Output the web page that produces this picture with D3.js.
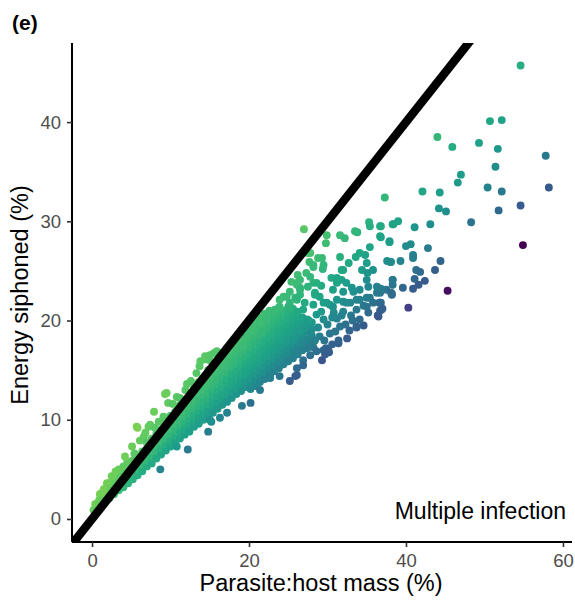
<!DOCTYPE html>
<html><head><meta charset="utf-8">
<script src="https://cdn.jsdelivr.net/npm/d3@7"></script>
<style>body{margin:0;background:#fff}svg{display:block}</style>
</head><body><svg id="c" width="575" height="601"></svg>
<script>
const xTicks = [0, 20, 40, 60];
const yTicks = [0, 10, 20, 30, 40];
const panelLabel = "(e)";
const xTitle = "Parasite:host mass (%)";
const yTitle = "Energy siphoned (%)";
const facetNote = "Multiple infection";

// dense core: [mass, energy, energy, ...] per column
const denseColumns = [
[0.4, 0.9, 1.5],
[1.0, 1.3, 1.9, 2.5],
[1.6, 1.8, 2.5, 3.0],
[2.2, 2.1, 2.8, 3.4],
[2.8, 2.5, 3.2, 3.9],
[3.4, 2.9, 3.6, 4.2],
[4.0, 3.2, 3.9, 4.6],
[4.6, 3.6, 4.3, 4.9, 5.5],
[5.2, 4.0, 4.7, 5.2, 5.9],
[5.8, 4.4, 5.0, 5.7, 6.3],
[6.4, 4.8, 5.5, 6.1, 6.8],
[7.0, 5.3, 5.9, 6.6, 7.1, 7.7],
[7.6, 5.6, 6.3, 6.9, 7.6, 8.1],
[8.2, 6.1, 6.8, 7.4, 8.0, 8.6],
[8.8, 6.5, 7.1, 7.8, 8.3, 9.0],
[9.4, 6.9, 7.5, 8.1, 8.8, 9.3, 9.9],
[10.0, 7.3, 7.9, 8.6, 9.1, 9.8, 10.4],
[10.6, 7.7, 8.4, 8.9, 9.6, 10.2, 10.8],
[11.2, 8.1, 8.7, 9.4, 9.9, 10.5, 11.0, 11.5],
[11.8, 8.5, 9.0, 9.7, 10.4, 10.9, 11.5, 12.0],
[12.4, 8.8, 9.5, 10.1, 10.6, 11.3, 11.9, 12.5],
[13.0, 9.3, 9.9, 10.4, 11.1, 11.7, 12.2, 12.8, 13.2],
[13.6, 9.6, 10.2, 10.9, 11.4, 12.0, 12.7, 13.2, 13.8],
[14.2, 10.0, 10.7, 11.2, 11.8, 12.5, 13.0, 13.7, 14.2],
[14.8, 10.4, 10.9, 11.6, 12.2, 12.7, 13.4, 13.9, 14.5, 15.0],
[15.4, 10.7, 11.4, 11.9, 12.6, 13.1, 13.7, 14.4, 14.9, 15.5],
[16.0, 11.1, 11.7, 12.4, 12.9, 13.6, 14.1, 14.8, 15.3, 15.9],
[16.6, 11.5, 12.1, 12.6, 13.3, 13.8, 14.5, 15.0, 15.6, 16.2, 16.7],
[17.2, 11.8, 12.5, 13.0, 13.7, 14.2, 14.8, 15.5, 16.0, 16.6, 17.2],
[17.8, 12.2, 12.8, 13.5, 14.0, 14.6, 15.3, 15.8, 16.4, 17.1, 17.6],
[18.4, 12.6, 13.1, 13.8, 14.4, 14.9, 15.6, 16.1, 16.8, 17.3, 17.9, 18.3],
[19.0, 12.9, 13.6, 14.1, 14.7, 15.4, 15.9, 16.5, 17.2, 17.7, 18.3, 18.8],
[19.6, 13.3, 13.9, 14.6, 15.1, 15.7, 16.4, 16.9, 17.5, 18.2, 18.7, 19.2],
[20.2, 13.1, 13.7, 14.2, 14.9, 15.5, 16.0, 16.7, 17.3, 17.8, 18.5, 19.0, 19.6],
[20.8, 13.4, 14.0, 14.7, 15.2, 15.8, 16.5, 17.0, 17.6, 18.3, 18.8, 19.4, 20.0],
[21.4, 13.8, 14.4, 15.0, 15.7, 16.2, 16.8, 17.5, 18.0, 18.6, 19.3, 19.8, 20.3],
[22.0, 14.1, 14.8, 15.4, 16.0, 16.7, 17.2, 17.8, 18.5, 19.0, 19.6, 20.2, 20.7],
[22.6, 14.5, 15.2, 15.7, 16.4, 17.0, 17.5, 18.2, 18.8, 19.3, 20.0, 20.5, 21.0],
[23.2, 14.9, 15.5, 16.2, 16.7, 17.3, 18.0, 18.5, 19.1, 19.8, 20.3, 20.9],
[23.8, 15.2, 15.9, 16.5, 17.1, 17.8, 18.3, 18.9, 19.6, 20.1, 20.7, 21.3],
[24.4, 15.6, 16.2, 16.9, 17.4, 18.0, 18.7, 19.2, 19.8, 20.5, 21.0],
[25.0, 15.9, 16.6, 17.1, 17.8, 18.4, 18.9, 19.6, 20.2, 20.7, 21.4],
[25.6, 16.2, 16.9, 17.6, 18.2, 18.7, 19.4, 20.0, 20.5, 21.2],
[26.2, 16.6, 17.3, 17.9, 18.6, 19.1, 19.7, 20.4, 20.9],
[26.8, 17.0, 17.8, 18.4, 19.0, 19.6, 20.3],
[27.4, 17.5, 18.1, 18.9, 19.5, 20.1],
[28.0, 17.8, 18.5, 19.1, 19.8]
];

// scattered middle points [mass, energy]
const middlePoints = [
[26.5,22.6],[28.4,22.8],[30.3,21.6],[32.0,20.9],[32.9,21.8],[34.1,22.1],[35.4,22.3],[36.3,22.8],
[26.9,21.1],[28.6,20.6],[29.5,20.1],[31.2,20.2],[31.6,19.4],[30.3,18.7],[29.0,18.4],[27.8,18.7],
[26.5,19.0],[25.6,18.0],[26.9,17.7],[28.2,17.3],[29.5,17.0],[26.1,16.7],[27.8,16.5],[26.9,16.0],
[28.8,19.3],[30.0,19.6],[30.8,20.8],[31.0,18.9],[32.3,19.6],[33.0,20.5],[32.8,19.0],[29.6,18.0],
[28.4,18.0],[27.4,17.2],[28.6,16.9],[30.6,17.6],[33.2,20.0],[35.2,20.8],[34.6,21.5],[27.6,20.0],
[27.2,19.3],[29.2,20.9],[30.6,20.3],[31.8,20.5],
[35.3,29.9],[33.8,28.9],[31.6,28.6],[32.2,28.3],[29.8,27.8],[35.4,27.4],[29.3,26.3],[27.5,26.8],
[27.7,25.9],[28.2,25.6],[29.4,25.2],[31.8,25.1],[34.4,25.1],[35.1,24.8],[37.6,26.0],[33.6,26.4],
[26.2,24.6],[27.3,24.8],[25.4,23.9],[26.5,23.3],[27.5,23.4],[28.2,23.8],[29.2,23.5],[28.4,22.6],
[30.5,24.3],[31.2,23.8],[31.8,24.1],[33.1,23.3],[34.1,23.1],[35.2,23.4],[36.3,23.4],[36.7,22.8],
[37.5,23.1],[24.4,22.4],[25.9,22.3],[27.1,21.8],[28.2,21.6],[29.5,21.8],[30.7,21.4],[32.0,21.9],
[33.7,22.1],[35.0,22.3],[36.7,21.8],
[33.5,29.0],[35.4,29.5],[36.7,29.5],[38.4,29.7],[36.7,28.5],[37.9,28.0],[34.8,26.6],[38.1,25.9],[38.3,24.1],
[27.8,26.8],[28.8,26.3],[29.5,25.6],[28.2,25.4],[26.5,24.1],[26.1,23.6],[27.8,24.4],[28.6,23.8],
[26.5,23.1],[24.8,22.4],[23.9,21.4],[25.2,21.8],[29.9,28.6],[31.6,26.4],[32.7,25.8],[32.0,25.1],
[34.1,26.8],[35.0,25.8],[35.8,25.1],[35.0,24.1],[31.2,24.3],[32.4,23.8],[33.3,22.9],[32.0,22.9],
[30.7,23.1],[35.0,21.4],[35.8,21.8],[33.7,21.1],[32.4,21.8],[31.2,22.1],[29.9,21.8],[29.0,22.4],
[23.9,22.1],[25.2,22.9],[26.1,23.8],[26.1,22.1],[25.2,21.4],[23.3,21.1],[22.2,20.1],[21.4,19.7],
[20.5,19.0],[21.8,18.9],[19.7,18.4],[19.3,17.4]
];

// lower fringe points
const lowerPoints = [
[8.7,5.0],[10.8,7.3],[12.2,7.0],[14.8,8.8],[15.2,9.8],[15.0,10.0],[16.3,10.2],[17.2,10.7],
[19.1,11.4],[20.2,11.7],[21.4,13.0],[22.7,14.2],[22.7,14.4],[23.9,14.4],[25.2,13.9],[26.1,14.5],
[25.9,14.4],[26.1,15.2],[26.9,15.5],[29.3,16.0],[29.8,17.2],[30.2,16.8],[29.7,16.6],[30.1,17.0],
[31.4,17.7],[31.4,18.0],[32.5,18.2],[33.7,19.3],[34.6,19.5],[34.1,20.1],[33.7,19.4],
[36.4,20.5],[36.5,20.4],[36.7,21.0],[36.9,21.1],[36.6,21.8],[38.2,22.7],[38.2,22.6],[38.3,23.6]
];

// points above the 1:1 line
const upperPoints = [
[0.2,0.9],[0.5,1.5],[0.9,1.9],[1.2,2.6],[1.5,3.0],[1.9,3.6],[2.1,3.6],[2.5,4.3],[2.7,4.3],
[3.0,4.8],[3.4,5.0],[4.0,5.3],[4.5,5.8],[4.2,6.3],[5.1,7.3],[5.4,6.6],[5.7,9.3],[5.8,9.2],
[6.1,7.9],[6.6,8.3],[6.8,8.7],[7.0,7.7],[7.2,9.3],[7.4,9.5],[7.9,10.8],[8.0,9.2],[8.5,9.8],
[9.1,10.3],[9.3,12.6],[9.5,12.7],[9.7,11.7],[10.3,11.6],[10.8,12.3],[11.2,12.2],[11.9,13.0],
[12.1,13.6],[12.6,13.9],[13.3,14.7],[13.7,15.4],[13.8,15.9],[14.4,16.1],[14.4,16.4],[15.0,16.5],
[15.0,16.0],[15.5,16.7],[15.9,16.9],[27.0,29.2]
];

// sparse points at large mass
const sparsePoints = [
[54.6,45.7],[50.7,40.1],[52.2,40.2],[44.0,38.5],[45.9,37.5],[49.3,37.9],[51.7,37.3],[57.8,36.6],
[51.4,35.5],[47.0,34.7],[46.6,33.9],[50.4,33.4],[52.2,33.0],[58.2,33.4],[37.3,32.4],[42.1,33.0],
[44.3,32.9],[44.2,31.3],[45.1,31.0],[51.8,31.1],[54.6,31.6],[48.3,29.9],[54.9,27.6],[45.3,23.0],
[40.3,21.3],[43.1,29.7],[41.1,29.4],[38.3,29.7],[39.0,30.0],[36.8,29.5],[36.8,28.4],[37.9,27.9],
[40.0,27.5],[40.6,27.7],[42.8,27.3],[40.9,26.6],[40.9,26.3],[38.0,25.9],[39.3,26.0],[44.4,26.0],
[43.7,25.1],[41.3,25.1],[41.8,24.9],[38.3,24.1],[41.1,24.2],[42.4,24.0],[39.6,23.3],[41.6,23.6],
[40.9,23.2],[38.1,22.8],[36.8,23.2],[36.8,21.8],[37.0,21.2]
];

const points = [];
denseColumns.forEach(c => c.slice(1).forEach(v => points.push([c[0], v])));
middlePoints.forEach(p => points.push(p));
lowerPoints.forEach(p => points.push(p));
upperPoints.forEach(p => points.push(p));
sparsePoints.forEach(p => points.push(p));

const colourStops = [0.528, 0.54, 0.56, 0.595, 0.65, 0.75, 0.88, 1.0, 1.4];
const colourPos = [0, 0.04, 0.18, 0.28, 0.4, 0.55, 0.66, 0.72, 0.8];

const svg = d3.select("#c");
const x = d3.scaleLinear().domain([-2.55, 61.15]).range([72, 572]);
const y = d3.scaleLinear().domain([-2.32, 47.97]).range([542, 43]);
const tScale = d3.scaleLinear().domain(colourStops).range(colourPos).clamp(true);
const colour = d => d3.interpolateViridis(tScale((d[1] + 3) / (d[0] + 3)));

svg.append("defs").append("clipPath").attr("id", "clip")
  .append("rect").attr("x", 72).attr("y", 43).attr("width", 500).attr("height", 499);

const plot = svg.append("g").attr("clip-path", "url(#clip)");
plot.selectAll("circle").data(points).join("circle")
  .attr("cx", d => x(d[0])).attr("cy", d => y(d[1])).attr("r", 3.95)
  .attr("fill", colour);

const xd = x.domain();
plot.append("line")
  .attr("x1", x(xd[0])).attr("y1", y(xd[0]))
  .attr("x2", x(xd[1])).attr("y2", y(xd[1]))
  .attr("stroke", "#000").attr("stroke-width", 8.5);

const font = "'Liberation Sans', Arial, Helvetica, sans-serif";
const xAxis = svg.append("g").attr("transform", "translate(0,542)")
  .call(d3.axisBottom(x).tickValues(xTicks).tickSize(5).tickSizeOuter(0).tickPadding(7));
const yAxis = svg.append("g").attr("transform", "translate(72,0)")
  .call(d3.axisLeft(y).tickValues(yTicks).tickSize(5).tickSizeOuter(0).tickPadding(6));
[xAxis, yAxis].forEach(a => {
  a.select(".domain").attr("stroke", "#000").attr("stroke-width", 2);
  a.selectAll(".tick line").attr("stroke", "#333").attr("stroke-width", 1.6);
  a.selectAll(".tick text").attr("fill", "#4d4d4d").style("font-family", font).style("font-size", "18.5px");
});
xAxis.select(".domain").attr("d", "M72,0H572");
yAxis.select(".domain").attr("d", "M0,43V542");

svg.append("text").attr("x", 12).attr("y", 30).text(panelLabel)
  .style("font-family", font).style("font-size", "21px").style("font-weight", "bold");
svg.append("text").attr("x", 321).attr("y", 591).attr("text-anchor", "middle").text(xTitle)
  .style("font-family", font).style("font-size", "23.5px").attr("fill", "#000");
svg.append("text").attr("transform", "translate(28,295) rotate(-90)").attr("text-anchor", "middle").text(yTitle)
  .style("font-family", font).style("font-size", "23.5px").attr("fill", "#000");
svg.append("text").attr("x", 566).attr("y", 519).attr("text-anchor", "end").text(facetNote)
  .style("font-family", font).style("font-size", "23px").attr("fill", "#000");
</script></body></html>
